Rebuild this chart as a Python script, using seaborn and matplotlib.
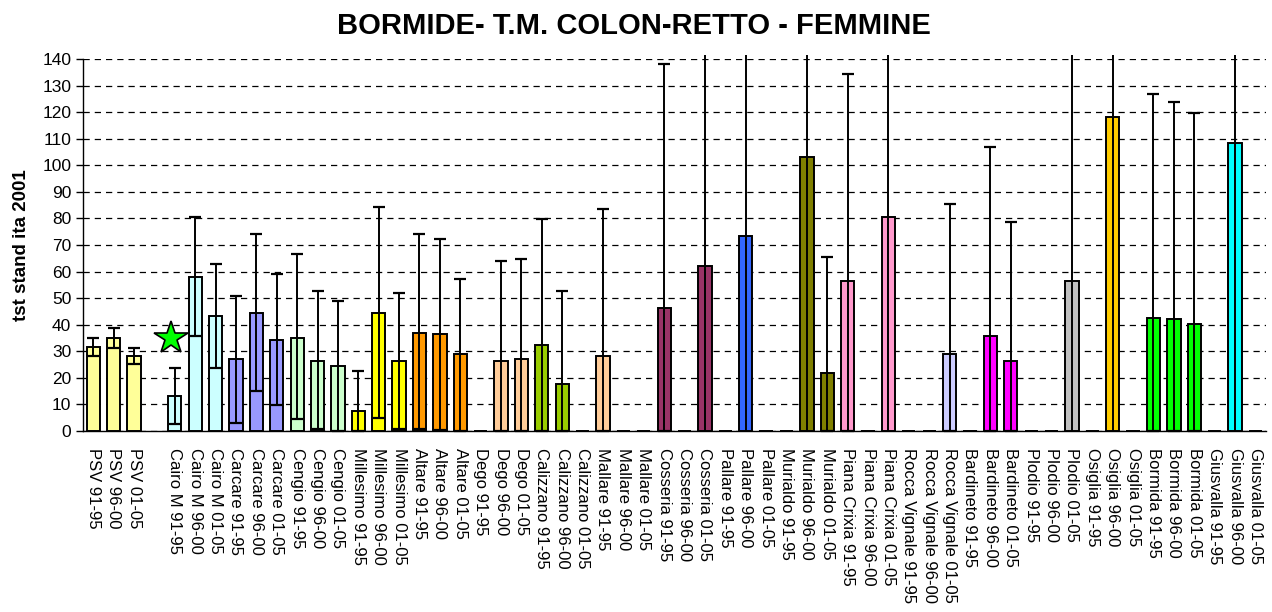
import numpy as np
import pandas as pd
import matplotlib
matplotlib.use("Agg")
import matplotlib.pyplot as plt
import seaborn as sns
from matplotlib.ticker import MultipleLocator, FixedLocator

sns.set_style("white")
plt.rcParams['font.family'] = ['Liberation Sans', 'DejaVu Sans']
plt.rcParams['text.color'] = 'black'
plt.rcParams['axes.labelcolor'] = 'black'
plt.rcParams['xtick.color'] = 'black'
plt.rcParams['ytick.color'] = 'black'

# Comuni e periodi
comuni = ["PSV", "", "Cairo M", "Carcare", "Cengio", "Millesimo", "Altare", "Dego",
          "Calizzano", "Mallare", "Cosseria", "Pallare", "Murialdo", "Piana Crixia",
          "Rocca Vignale", "Bardineto", "Plodio", "Osiglia", "Bormida", "Giusvalla"]
periodi = ["91-95", "96-00", "01-05"]

colori_comuni = {
    "PSV": "#FFFF99", "Cairo M": "#CCFFFF", "Carcare": "#9999FF", "Cengio": "#CCFFCC",
    "Millesimo": "#FFFF00", "Altare": "#FF9900", "Dego": "#FFCC99", "Calizzano": "#99CC00",
    "Mallare": "#FFCC99", "Cosseria": "#993366", "Pallare": "#3366FF", "Murialdo": "#808000",
    "Piana Crixia": "#FF99CC", "Rocca Vignale": "#CCCCFF", "Bardineto": "#FF00FF",
    "Plodio": "#C0C0C0", "Osiglia": "#FFCC00", "Bormida": "#00FF00", "Giusvalla": "#00FFFF",
}

# tassi standardizzati (0 = nessun caso)
tassi = [31.4, 35.0, 28.3, np.nan,
         13.1, 57.8, 43.2, 26.9, 44.5, 34.4, 35.0, 26.3, 24.4,
         7.4, 44.5, 26.3, 36.9, 36.3, 28.8, 0, 26.3, 26.9,
         32.5, 17.5, 0, 28.1, 0, 0, 46.4, 0, 62.1,
         0, 73.4, 0, 0, 103.0, 21.9, 56.5, 0, 80.4,
         0, 0, 28.8, 0, 35.7, 26.3, 0, 0, 56.5,
         0, 118.1, 0, 42.6, 42.0, 40.1, 0, 108.5, 0]

# intervalli di confidenza (limite inferiore / superiore)
ic_inf = [28.1, 31.3, 25.1, np.nan,
          2.4, 35.8, 23.7, 3.0, 15.0, 9.9, 4.3, 0.6, 0,
          0, 4.9, 0.6, 0.6, 0.5, 0, np.nan, 0, 0,
          0, 0, np.nan, 0, np.nan, np.nan, 0, np.nan, 0,
          np.nan, 0, np.nan, np.nan, 0, 0, 0, np.nan, 0,
          np.nan, np.nan, 0, np.nan, 0, 0, np.nan, np.nan, 0,
          np.nan, 0, np.nan, 0, 0, 0, np.nan, 0, np.nan]
ic_sup = [35.0, 38.9, 31.3, np.nan,
          23.6, 80.4, 62.8, 50.8, 74.1, 59.0, 66.6, 52.8, 49.0,
          22.5, 84.2, 52.0, 74.1, 72.2, 57.2, np.nan, 64.1, 64.7,
          79.8, 52.8, np.nan, 83.5, np.nan, np.nan, 138.2, np.nan, 141.5,
          np.nan, 141.5, np.nan, np.nan, 141.5, 65.3, 134.4, np.nan, 141.5,
          np.nan, np.nan, 85.4, np.nan, 106.8, 78.5, np.nan, np.nan, 141.5,
          np.nan, 141.5, np.nan, 127.0, 123.9, 119.6, np.nan, 141.5, np.nan]

# riferimento (stella)
stella_x = "Cairo M 91-95"
stella_y = 34.8

etichette = []
colori = []
for c in comuni:
    if c == "":
        etichette.append(" ")
        colori.append("white")
        continue
    for p in periodi:
        etichette.append(f"{c} {p}")
        colori.append(colori_comuni[c])

df = pd.DataFrame({"cat": etichette, "val": tassi, "lo": ic_inf, "hi": ic_sup})
df["pos"] = np.arange(len(df))

fig = plt.figure(figsize=(12.72, 6.12), dpi=100)
ax = fig.add_axes([0.0653, 0.296, 0.9297, 0.6074])

sns.barplot(data=df, x="cat", y="val", hue="cat", palette=colori, legend=False,
            order=etichette, width=0.65, edgecolor="black", linewidth=1.4,
            saturation=1, ax=ax, zorder=3)

# barre d'errore: con cappuccio dentro la scala, senza se escono dal grafico
ymax = 140
dentro = df[df["hi"] <= ymax]
fuori = df[df["hi"] > ymax]
for sub, cap in [(dentro, 4.5), (fuori, 0)]:
    err = np.vstack([sub["val"] - sub["lo"], sub["hi"] - sub["val"]])
    ax.errorbar(sub["pos"], sub["val"], yerr=err, fmt="none", ecolor="black",
                elinewidth=1.4, capsize=cap, capthick=1.6, zorder=4, clip_on=False)

sx = etichette.index(stella_x)
ax.plot(sx - 0.17, stella_y, marker="*", markersize=25, color="#00FF00",
        markeredgecolor="black", markeredgewidth=1.2, zorder=5, linestyle="none")

ax.set_ylim(0, ymax)
ax.set_xlim(-0.5, len(df) - 0.5)
ax.yaxis.set_major_locator(MultipleLocator(10))
ax.grid(axis="y", color="black", linestyle=(0, (5, 4)), linewidth=0.9, zorder=0)
ax.set_axisbelow(True)
gl = ax.get_ygridlines()
gl[-1].set_color("#DDDDDD")

for s in ["top", "right"]:
    ax.spines[s].set_visible(False)
for s in ["left", "bottom"]:
    ax.spines[s].set_color("black")
    ax.spines[s].set_linewidth(1.0)

ax.set_xticks(df["pos"])
ax.set_xticklabels(etichette, rotation=270, fontsize=12, va="top", ha="center")
ax.xaxis.set_minor_locator(FixedLocator(np.arange(-0.5, len(df), 1.0)))
ax.tick_params(axis="x", which="major", length=0, pad=12)
ax.tick_params(axis="x", which="minor", length=5, width=1, color="black", direction="out")
ax.tick_params(axis="y", length=5, width=1, color="black", direction="out",
               labelsize=12.5, left=True)

ax.set_xlabel("")
ax.set_ylabel("tst stand ita 2001", fontsize=13.5, fontweight="bold", labelpad=9)
fig.text(0.498, 0.958, "BORMIDE- T.M. COLON-RETTO - FEMMINE", ha="center", va="center",
         fontsize=21, fontweight="bold", color="black")

fig.savefig("out.png", dpi=100)
